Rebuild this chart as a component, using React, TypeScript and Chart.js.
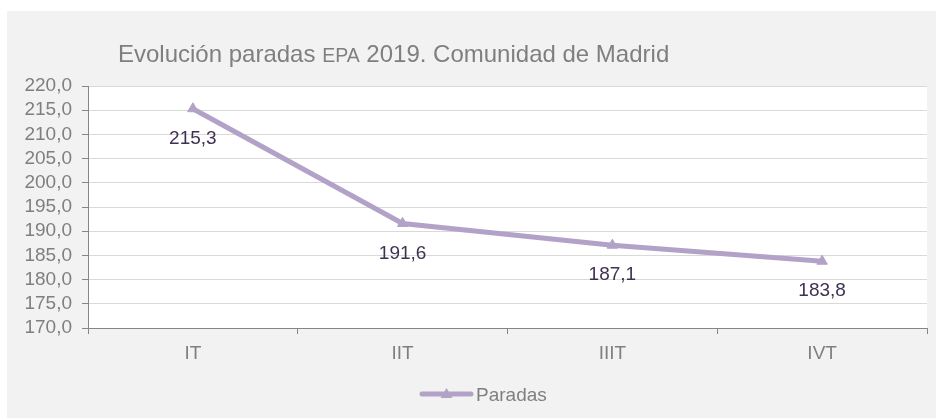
import React, { useEffect, useRef } from "react";
import { Chart, registerables } from "chart.js";

Chart.register(...registerables);

const categories = ["IT", "IIT", "IIIT", "IVT"];
const paradas = [215.3, 191.6, 187.1, 183.8];
const seriesLabel = "Paradas";
const titleParts = ["Evolución paradas ", "EPA", " 2019. Comunidad de Madrid"];

const FONT = "'Liberation Sans', Arial, sans-serif";
const LINE_COLOR = "#b3a2c7";
const GREY_TEXT = "#7f7f7f";
const AXIS = "#868686";

const fmt = (v: number) => v.toFixed(1).replace(".", ",");

export default function App() {
  const ref = useRef<HTMLCanvasElement | null>(null);

  useEffect(() => {
    document.body.style.margin = "0";
    const canvas = ref.current;
    if (!canvas) return;

    const bgPlugin = {
      id: "bg",
      beforeDraw(chart: any) {
        const { ctx, chartArea, width, height } = chart;
        ctx.save();
        ctx.fillStyle = "#ffffff";
        ctx.fillRect(0, 0, width, height);
        ctx.fillStyle = "#f2f2f2";
        ctx.fillRect(7, 11, width - 10, height - 12);
        ctx.fillStyle = "#ffffff";
        ctx.fillRect(chartArea.left, chartArea.top, chartArea.right - chartArea.left, chartArea.bottom - chartArea.top);
        ctx.restore();
      },
    };

    const titlePlugin = {
      id: "titleMixed",
      afterDraw(chart: any) {
        const { ctx } = chart;
        ctx.save();
        ctx.fillStyle = GREY_TEXT;
        ctx.textBaseline = "alphabetic";
        ctx.textAlign = "left";
        let x = 118;
        const y = 62;
        const sizes = [24, 19.5, 24];
        titleParts.forEach((t, i) => {
          ctx.font = `${sizes[i]}px ${FONT}`;
          ctx.fillText(t, x, y);
          x += ctx.measureText(t).width;
        });
        ctx.restore();
      },
    };

    const labelsPlugin = {
      id: "dataLabels",
      afterDatasetsDraw(chart: any) {
        const { ctx } = chart;
        const meta = chart.getDatasetMeta(0);
        ctx.save();
        ctx.font = `19px ${FONT}`;
        ctx.fillStyle = "#3f3151";
        ctx.textAlign = "center";
        ctx.textBaseline = "middle";
        meta.data.forEach((pt: any, i: number) => {
          ctx.fillText(fmt(paradas[i]), pt.x, pt.y + 30);
        });
        ctx.restore();
      },
    };

    const legendPlugin = {
      id: "customLegend",
      afterDraw(chart: any) {
        const { ctx } = chart;
        const y = 394;
        const x0 = 422;
        const x1 = 471;
        ctx.save();
        ctx.strokeStyle = LINE_COLOR;
        ctx.lineWidth = 5;
        ctx.lineCap = "round";
        ctx.beginPath();
        ctx.moveTo(x0, y);
        ctx.lineTo(x1, y);
        ctx.stroke();
        const cx = (x0 + x1) / 2;
        ctx.fillStyle = LINE_COLOR;
        ctx.beginPath();
        ctx.moveTo(cx, y - 6);
        ctx.lineTo(cx + 6, y + 4);
        ctx.lineTo(cx - 6, y + 4);
        ctx.closePath();
        ctx.fill();
        ctx.font = `19px ${FONT}`;
        ctx.fillStyle = GREY_TEXT;
        ctx.textAlign = "left";
        ctx.textBaseline = "middle";
        ctx.fillText(chart.data.datasets[0].label, 476, y + 2);
        ctx.restore();
      },
    };

    const chart = new Chart(canvas, {
      type: "line",
      data: {
        labels: categories,
        datasets: [
          {
            label: seriesLabel,
            data: paradas,
            borderColor: LINE_COLOR,
            backgroundColor: LINE_COLOR,
            borderWidth: 5,
            pointStyle: "triangle",
            pointRadius: 6,
            pointBackgroundColor: LINE_COLOR,
            pointBorderColor: LINE_COLOR,
            pointBorderWidth: 1,
            tension: 0,
            fill: false,
          },
        ],
      },
      options: {
        responsive: false,
        animation: false,
        devicePixelRatio: 1,
        layout: { padding: { left: 0, right: 12, top: 86, bottom: 51 } },
        plugins: {
          legend: { display: false },
          title: { display: false },
          tooltip: { enabled: false },
        },
        scales: {
          x: {
            offset: true,
            afterFit(scale: any) {
              scale.height = 40;
            },
            grid: {
              display: true,
              offset: true,
              drawOnChartArea: false,
              drawTicks: true,
              tickLength: 6,
              color: AXIS,
            },
            border: { color: AXIS, width: 1 },
            ticks: {
              color: GREY_TEXT,
              font: { family: FONT, size: 19 },
              padding: 8,
              maxRotation: 0,
              autoSkip: false,
            },
          },
          y: {
            min: 170,
            max: 220,
            afterFit(scale: any) {
              scale.width = 88;
            },
            grid: {
              color: "#d9d9d9",
              lineWidth: 1,
              tickColor: AXIS,
              tickLength: 6,
            },
            border: { color: AXIS, width: 1 },
            ticks: {
              stepSize: 5,
              autoSkip: false,
              color: GREY_TEXT,
              font: { family: FONT, size: 19 },
              padding: 10,
              callback: (v: any) => fmt(Number(v)),
            },
          },
        },
      },
      plugins: [bgPlugin, titlePlugin, labelsPlugin, legendPlugin],
    });

    return () => chart.destroy();
  }, []);

  return (
    <div style={{ width: 939, height: 419 }}>
      <canvas ref={ref} width={939} height={419} style={{ display: "block" }} />
    </div>
  );
}
